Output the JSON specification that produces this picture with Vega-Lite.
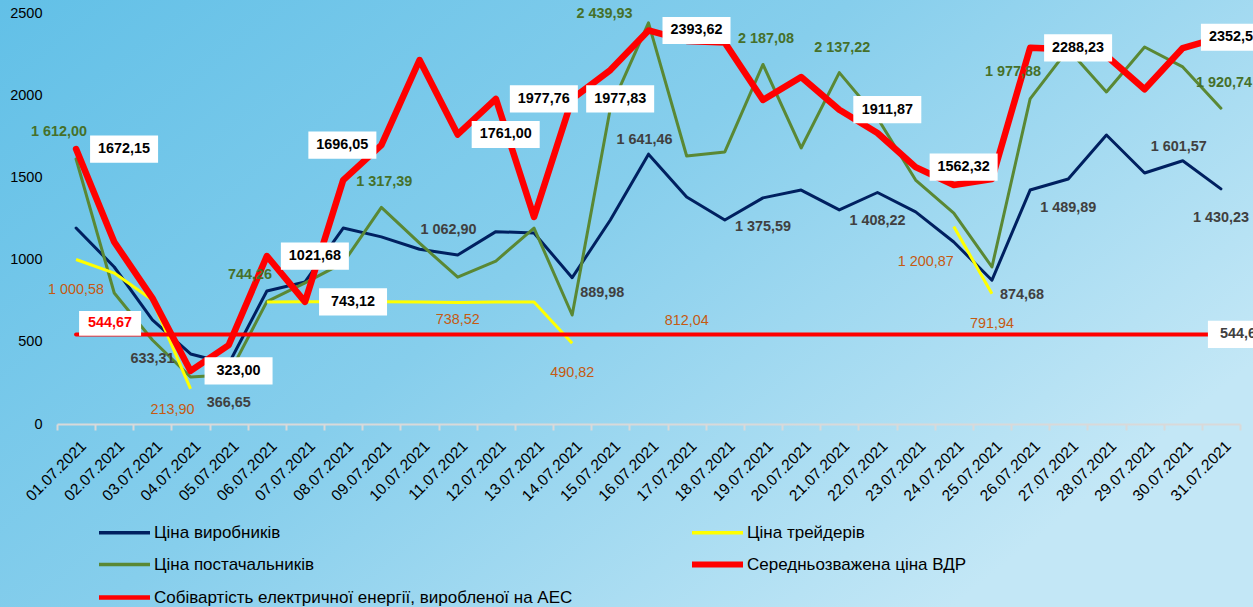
{
 "$schema": "https://vega.github.io/schema/vega-lite/v6.json",
 "width": 1253, "height": 607,
 "autosize": {"type": "none"},
 "padding": 0,
 "background": "#8FD1EE",
 "config": {"view": {"stroke": null}, "font": "Liberation Sans",
   "locale": {"number": {"decimal": ",", "thousands": " ", "grouping": [3], "currency": ["", ""]}}},
 "layer": [
  {"data": {"values": [{}]},
   "mark": {"type": "rect", "fill": {"gradient": "linear", "x1": 0, "y1": 0, "x2": 1, "y2": 0.6,
     "stops": [{"offset": 0, "color": "#62C0E7"}, {"offset": 0.5, "color": "#86CEEC"}, {"offset": 1, "color": "#C3E7F6"}]}},
   "encoding": {}},
  {
   "data": {"values": [
{"d":"01.07.2021","p":1192,"s":1612.00,"t":1000.58,"a":544.67,"v":1672.15},
{"d":"02.07.2021","p":955,"s":797,"t":918,"a":544.67,"v":1107},
{"d":"03.07.2021","p":633.31,"s":511,"t":754,"a":544.67,"v":766},
{"d":"04.07.2021","p":426,"s":286,"t":213.90,"a":544.67,"v":323.00},
{"d":"05.07.2021","p":366.65,"s":300,"t":null,"a":544.67,"v":480},
{"d":"06.07.2021","p":809,"s":744.26,"t":742,"a":544.67,"v":1021.68},
{"d":"07.07.2021","p":864,"s":858,"t":743,"a":544.67,"v":743.12},
{"d":"08.07.2021","p":1192,"s":980,"t":743,"a":544.67,"v":1484},
{"d":"09.07.2021","p":1138,"s":1317.39,"t":743,"a":544.67,"v":1696.05},
{"d":"10.07.2021","p":1062.90,"s":1100,"t":742,"a":544.67,"v":2214},
{"d":"11.07.2021","p":1028,"s":893,"t":738.52,"a":544.67,"v":1761.00},
{"d":"12.07.2021","p":1170,"s":991,"t":742,"a":544.67,"v":1977.76},
{"d":"13.07.2021","p":1162,"s":1192,"t":742,"a":544.67,"v":1259},
{"d":"14.07.2021","p":889.98,"s":663,"t":490.82,"a":544.67,"v":1977.83},
{"d":"15.07.2021","p":1241,"s":1920,"t":null,"a":544.67,"v":2153},
{"d":"16.07.2021","p":1641.46,"s":2439.93,"t":null,"a":544.67,"v":2393.62},
{"d":"17.07.2021","p":1381,"s":1630,"t":812.04,"a":544.67,"v":2330},
{"d":"18.07.2021","p":1241,"s":1655,"t":null,"a":544.67,"v":2320},
{"d":"19.07.2021","p":1375.59,"s":2187.08,"t":null,"a":544.67,"v":1971},
{"d":"20.07.2021","p":1423,"s":1679,"t":null,"a":544.67,"v":2111},
{"d":"21.07.2021","p":1302,"s":2137.22,"t":null,"a":544.67,"v":1911.87},
{"d":"22.07.2021","p":1408.22,"s":1861,"t":null,"a":544.67,"v":1770},
{"d":"23.07.2021","p":1290,"s":1484,"t":null,"a":544.67,"v":1562.32},
{"d":"24.07.2021","p":1107,"s":1283,"t":1200.87,"a":544.67,"v":1454},
{"d":"25.07.2021","p":874.68,"s":955,"t":791.94,"a":544.67,"v":1490},
{"d":"26.07.2021","p":1423,"s":1977.88,"t":null,"a":544.67,"v":2288.23},
{"d":"27.07.2021","p":1489.89,"s":2280,"t":null,"a":544.67,"v":2280},
{"d":"28.07.2021","p":1758,"s":2020,"t":null,"a":544.67,"v":2240},
{"d":"29.07.2021","p":1527,"s":2293,"t":null,"a":544.67,"v":2036},
{"d":"30.07.2021","p":1601.57,"s":2172,"t":null,"a":544.67,"v":2287},
{"d":"31.07.2021","p":1430.23,"s":1920.74,"t":null,"a":544.67,"v":2352.58}
   ]},
   "transform": [{"fold": ["p", "s", "t", "a", "v"], "as": ["k", "val"]}],
   "encoding": {
    "x": {"field": "d", "type": "ordinal", "sort": null,
      "scale": {"type": "band", "range": [57, 1240], "paddingInner": 0, "paddingOuter": 0},
      "axis": {"title": null, "zindex": 1, "offset": -183, "domainColor": "#D9D9D9", "domainWidth": 2,
        "tickColor": "#D9D9D9", "tickWidth": 2, "tickSize": 6, "tickBand": "extent",
        "labelAngle": -45, "labelAlign": "right", "labelBaseline": "middle",
        "labelPadding": 13, "labelOffset": 7, "labelFontSize": 15.5, "labelColor": "#000000", "labelFont": "Liberation Sans"}},
    "y": {"field": "val", "type": "quantitative",
      "scale": {"domain": [0, 2500], "range": [424, 13], "nice": false},
      "axis": {"title": null, "zindex": 1, "offset": -57, "values": [0, 500, 1000, 1500, 2000, 2500], "format": "d",
        "domain": false, "ticks": false, "grid": false, "labelPadding": 15,
        "labelFontSize": 14.5, "labelColor": "#000000", "labelFont": "Liberation Sans"}}
   },
   "layer": [
    {"transform": [{"filter": {"field": "k", "equal": "p"}}],
     "mark": {"type": "line", "invalid": "break-paths-show-domains", "strokeJoin": "round", "strokeCap": "round", "strokeWidth": 3},
     "encoding": {
      "color": {"field": "k", "type": "nominal",
        "scale": {"domain": ["p", "t", "s", "v", "a"], "range": ["#002060", "#FFFF00", "#5A8834", "#FF0000", "#FF0000"]},
        "legend": {"title": null, "orient": "none", "legendX": 116, "legendY": 524, "direction": "horizontal",
          "columns": 2, "columnPadding": 107, "rowPadding": 11, "padding": 0,
          "symbolType": "M-3,0H3", "symbolSize": 289, "labelFontSize": 17, "labelColor": "#000000",
          "labelOffset": 21, "labelLimit": 0, "labelFont": "Liberation Sans",
          "labelExpr": "datum.label == 'p' ? 'Ціна виробників' : datum.label == 't' ? 'Ціна трейдерів' : datum.label == 's' ? 'Ціна постачальників' : datum.label == 'v' ? 'Середньозважена ціна ВДР' : 'Собівартість електричної енергії, виробленої на АЕС'",
          "encode": {"symbols": {"update": {"strokeWidth": {"signal": "datum.value == 'v' ? 6 : datum.value == 'a' ? 4.5 : 3.5"}}}}}}
     }},
    {"transform": [{"filter": {"field": "k", "equal": "s"}}],
     "mark": {"type": "line", "invalid": "break-paths-show-domains", "strokeJoin": "round", "strokeCap": "round", "strokeWidth": 3},
     "encoding": {"color": {"field": "k", "type": "nominal"}}},
    {"transform": [{"filter": {"field": "k", "equal": "t"}}],
     "mark": {"type": "line", "invalid": "break-paths-show-domains", "strokeJoin": "round", "strokeCap": "butt", "strokeWidth": 3},
     "encoding": {"color": {"field": "k", "type": "nominal"}}},
    {"transform": [{"filter": {"field": "k", "equal": "a"}}],
     "mark": {"type": "line", "invalid": "break-paths-show-domains", "strokeJoin": "round", "strokeCap": "round", "strokeWidth": 4},
     "encoding": {"color": {"field": "k", "type": "nominal"}}},
    {"transform": [{"filter": {"field": "k", "equal": "v"}}],
     "mark": {"type": "line", "invalid": "break-paths-show-domains", "strokeJoin": "round", "strokeCap": "round", "strokeWidth": 6.5},
     "encoding": {"color": {"field": "k", "type": "nominal"}}},
    {"transform": [{"filter": {"and": [{"field": "k", "equal": "p"}, {"field": "d", "oneOf": ["19.07.2021", "22.07.2021", "27.07.2021", "31.07.2021"]}]}}],
     "mark": {"type": "text", "fontWeight": "bold", "fontSize": 14.4, "fill": "#404040", "dy": 29},
     "encoding": {"text": {"field": "val", "type": "quantitative", "format": ",.2f"}}},
    {"transform": [{"filter": {"and": [{"field": "k", "equal": "p"}, {"field": "d", "oneOf": ["03.07.2021", "05.07.2021"]}]}}],
     "mark": {"type": "text", "fontWeight": "bold", "fontSize": 14.4, "fill": "#404040", "dy": 39},
     "encoding": {"text": {"field": "val", "type": "quantitative", "format": ",.2f"}}},
    {"transform": [{"filter": {"and": [{"field": "k", "equal": "p"}, {"field": "d", "oneOf": ["16.07.2021", "30.07.2021"]}]}}],
     "mark": {"type": "text", "fontWeight": "bold", "fontSize": 14.4, "fill": "#404040", "dx": -4, "dy": -14},
     "encoding": {"text": {"field": "val", "type": "quantitative", "format": ",.2f"}}},
    {"transform": [{"filter": {"and": [{"field": "k", "equal": "p"}, {"field": "d", "oneOf": ["14.07.2021", "25.07.2021"]}]}}],
     "mark": {"type": "text", "fontWeight": "bold", "fontSize": 14.4, "fill": "#404040", "dx": 30, "dy": 15},
     "encoding": {"text": {"field": "val", "type": "quantitative", "format": ",.2f"}}},
    {"transform": [{"filter": {"and": [{"field": "k", "equal": "p"}, {"field": "d", "oneOf": ["10.07.2021"]}]}}],
     "mark": {"type": "text", "fontWeight": "bold", "fontSize": 14.4, "fill": "#404040", "dx": 29, "dy": -19},
     "encoding": {"text": {"field": "val", "type": "quantitative", "format": ",.2f"}}},
    {"transform": [{"filter": {"and": [{"field": "k", "equal": "s"}, {"field": "d", "oneOf": ["01.07.2021", "06.07.2021", "26.07.2021"]}]}}],
     "mark": {"type": "text", "fontWeight": "bold", "fontSize": 14.4, "fill": "#46702A", "dx": -17, "dy": -27},
     "encoding": {"text": {"field": "val", "type": "quantitative", "format": ",.2f"}}},
    {"transform": [{"filter": {"and": [{"field": "k", "equal": "s"}, {"field": "d", "oneOf": ["09.07.2021", "19.07.2021", "21.07.2021", "31.07.2021"]}]}}],
     "mark": {"type": "text", "fontWeight": "bold", "fontSize": 14.4, "fill": "#46702A", "dx": 3, "dy": -25},
     "encoding": {"text": {"field": "val", "type": "quantitative", "format": ",.2f"}}},
    {"transform": [{"filter": {"and": [{"field": "k", "equal": "s"}, {"field": "d", "oneOf": ["16.07.2021"]}]}}],
     "mark": {"type": "text", "fontWeight": "bold", "fontSize": 14.4, "fill": "#46702A", "dx": -44, "dy": -9},
     "encoding": {"text": {"field": "val", "type": "quantitative", "format": ",.2f"}}},
    {"transform": [{"filter": {"and": [{"field": "k", "equal": "t"}, {"field": "d", "oneOf": ["01.07.2021", "14.07.2021", "17.07.2021", "25.07.2021"]}]}}],
     "mark": {"type": "text", "fontSize": 14.4, "fill": "#C55A11", "dy": 30},
     "encoding": {"text": {"field": "val", "type": "quantitative", "format": ",.2f"}}},
    {"transform": [{"filter": {"and": [{"field": "k", "equal": "t"}, {"field": "d", "oneOf": ["11.07.2021"]}]}}],
     "mark": {"type": "text", "fontSize": 14.4, "fill": "#C55A11", "dy": 17},
     "encoding": {"text": {"field": "val", "type": "quantitative", "format": ",.2f"}}},
    {"transform": [{"filter": {"and": [{"field": "k", "equal": "t"}, {"field": "d", "oneOf": ["04.07.2021"]}]}}],
     "mark": {"type": "text", "fontSize": 14.4, "fill": "#C55A11", "dx": -18, "dy": 21},
     "encoding": {"text": {"field": "val", "type": "quantitative", "format": ",.2f"}}},
    {"transform": [{"filter": {"and": [{"field": "k", "equal": "t"}, {"field": "d", "oneOf": ["24.07.2021"]}]}}],
     "mark": {"type": "text", "fontSize": 14.4, "fill": "#C55A11", "dx": -28, "dy": 35},
     "encoding": {"text": {"field": "val", "type": "quantitative", "format": ",.2f"}}},
    {"transform": [{"filter": {"and": [{"field": "k", "equal": "v"}, {"field": "d", "oneOf": ["01.07.2021", "04.07.2021", "06.07.2021", "07.07.2021", "11.07.2021", "12.07.2021", "14.07.2021", "16.07.2021", "21.07.2021", "23.07.2021", "26.07.2021"]}]}}],
     "mark": {"type": "point", "shape": "M-1,-0.4H1V0.4H-1Z", "size": 4624, "filled": true, "fill": "#FFFFFF", "opacity": 1, "strokeWidth": 0, "xOffset": 48}},
    {"transform": [{"filter": {"and": [{"field": "k", "equal": "v"}, {"field": "d", "oneOf": ["09.07.2021"]}]}}],
     "mark": {"type": "point", "shape": "M-1,-0.4H1V0.4H-1Z", "size": 4624, "filled": true, "fill": "#FFFFFF", "opacity": 1, "strokeWidth": 0, "xOffset": -39}},
    {"transform": [{"filter": {"and": [{"field": "k", "equal": "v"}, {"field": "d", "oneOf": ["31.07.2021"]}]}}],
     "mark": {"type": "point", "shape": "M-1,-0.4H1V0.4H-1Z", "size": 4624, "filled": true, "fill": "#FFFFFF", "opacity": 1, "strokeWidth": 0, "xOffset": 14}},
    {"transform": [{"filter": {"and": [{"field": "k", "equal": "a"}, {"field": "d", "oneOf": ["01.07.2021"]}]}}],
     "mark": {"type": "point", "shape": "M-1,-0.4H1V0.4H-1Z", "size": 3844, "filled": true, "fill": "#FFFFFF", "opacity": 1, "strokeWidth": 0, "xOffset": 34, "yOffset": -11}},
    {"transform": [{"filter": {"and": [{"field": "k", "equal": "a"}, {"field": "d", "oneOf": ["31.07.2021"]}]}}],
     "mark": {"type": "point", "shape": "M-1,-0.4H1V0.4H-1Z", "size": 4624, "filled": true, "fill": "#FFFFFF", "opacity": 1, "strokeWidth": 0, "xOffset": 21}},
    {"transform": [{"filter": {"and": [{"field": "k", "equal": "v"}, {"field": "d", "oneOf": ["01.07.2021", "04.07.2021", "06.07.2021", "07.07.2021", "11.07.2021", "12.07.2021", "14.07.2021", "16.07.2021", "21.07.2021", "23.07.2021", "26.07.2021"]}]}}],
     "mark": {"type": "text", "fontWeight": "bold", "fontSize": 14.4, "fill": "#000000", "dx": 48},
     "encoding": {"text": {"field": "val", "type": "quantitative", "format": ".2f"}}},
    {"transform": [{"filter": {"and": [{"field": "k", "equal": "v"}, {"field": "d", "oneOf": ["09.07.2021"]}]}}],
     "mark": {"type": "text", "fontWeight": "bold", "fontSize": 14.4, "fill": "#000000", "dx": -39},
     "encoding": {"text": {"field": "val", "type": "quantitative", "format": ".2f"}}},
    {"transform": [{"filter": {"and": [{"field": "k", "equal": "v"}, {"field": "d", "oneOf": ["31.07.2021"]}]}}],
     "mark": {"type": "text", "fontWeight": "bold", "fontSize": 14.4, "fill": "#000000", "dx": 14},
     "encoding": {"text": {"field": "val", "type": "quantitative", "format": ".2f"}}},
    {"transform": [{"filter": {"and": [{"field": "k", "equal": "a"}, {"field": "d", "oneOf": ["01.07.2021"]}]}}],
     "mark": {"type": "text", "fontWeight": "bold", "fontSize": 14.4, "fill": "#FF0000", "dx": 34, "dy": -11},
     "encoding": {"text": {"field": "val", "type": "quantitative", "format": ".2f"}}},
    {"transform": [{"filter": {"and": [{"field": "k", "equal": "a"}, {"field": "d", "oneOf": ["31.07.2021"]}]}}],
     "mark": {"type": "text", "fontWeight": "bold", "fontSize": 14.4, "fill": "#404040", "dx": 21},
     "encoding": {"text": {"field": "val", "type": "quantitative", "format": ".2f"}}}
   ]
  }
 ]
}
